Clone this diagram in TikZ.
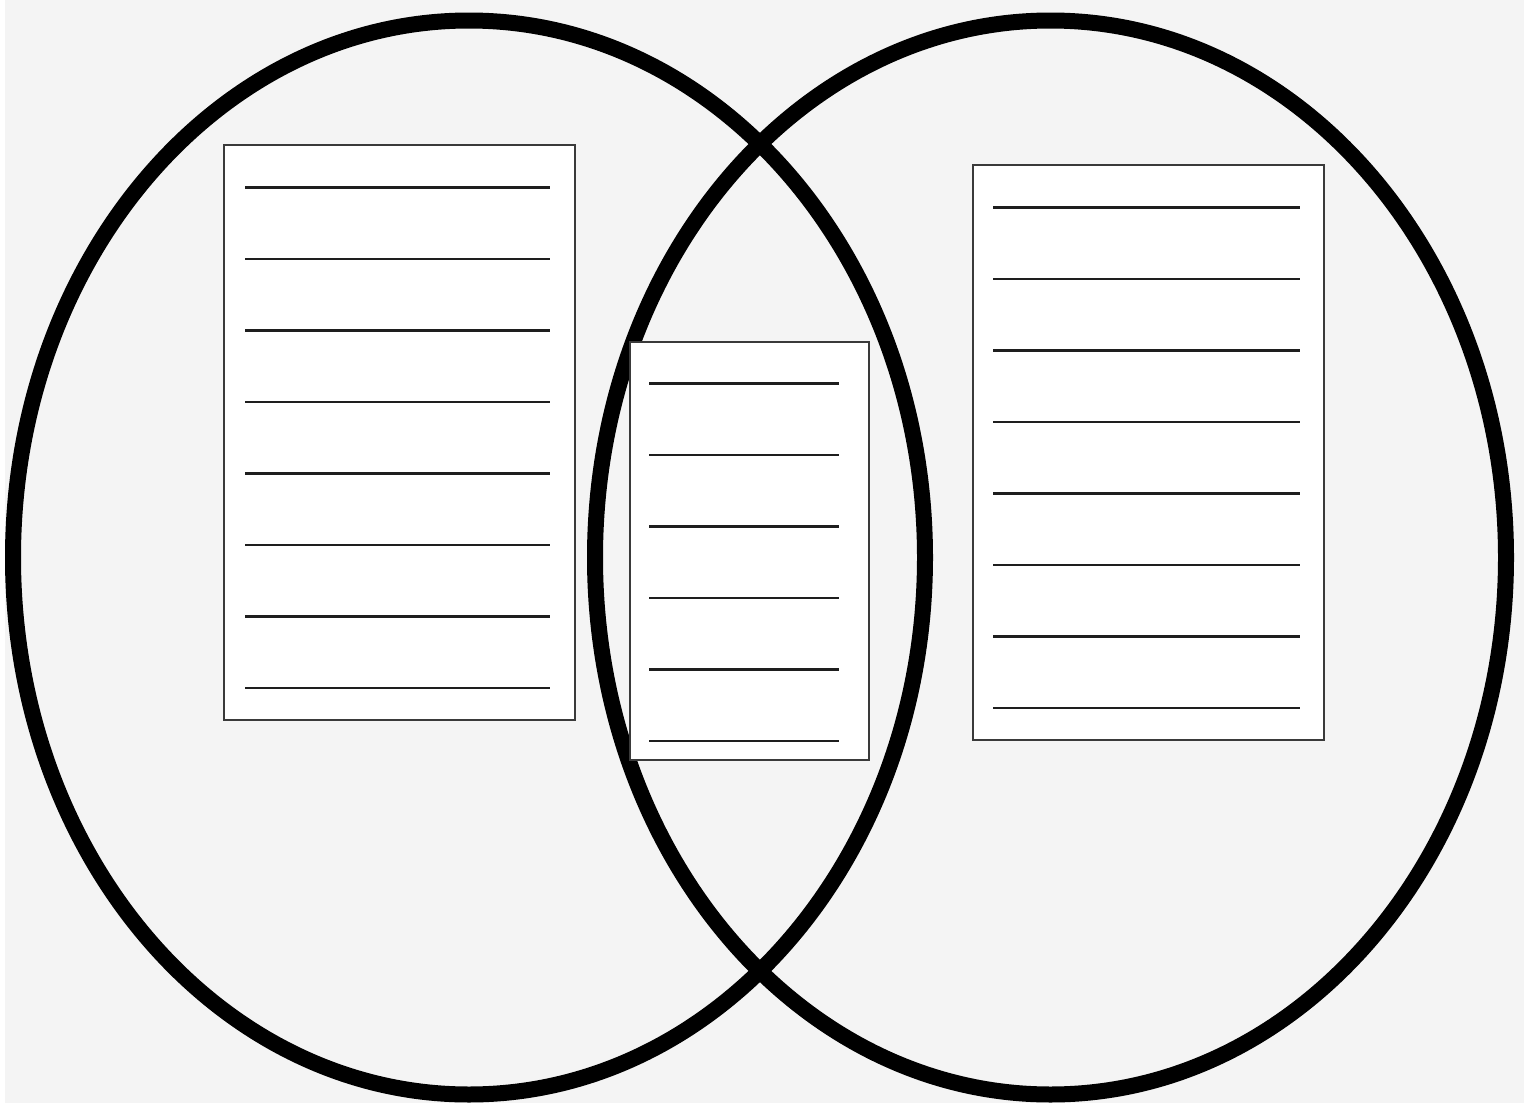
\documentclass[tikz,border=0pt]{standalone}
\definecolor{bggray}{HTML}{F4F4F4}
\definecolor{boxedge}{HTML}{3A3A3A}
\definecolor{rulecol}{HTML}{1E1E1E}
\tikzset{
  ring/.style={draw=black, line width=16pt},
  listbox/.style={draw=boxedge, fill=white, line width=1.5pt, rectangle, inner sep=0pt},
  writeline/.style={draw=rulecol, line width=2.4pt},
}
\begin{document}
\begin{tikzpicture}[x=1pt,y=-1pt]
\useasboundingbox (0,0) rectangle (1524,1103);
\fill[white] (0,0) rectangle (1524,1103);
\fill[bggray] (5,0) rectangle (1524,1103);
% circles
\draw[ring] (469,557.5) ellipse [x radius=456pt, y radius=537pt];
\draw[ring] (1050.5,557.5) ellipse [x radius=455.5pt, y radius=537pt];
% boxes
\node[listbox, minimum width=351pt, minimum height=575pt] (L) at (399.5,432.5) {};
\node[listbox, minimum width=239pt, minimum height=418pt] (M) at (749.5,551) {};
\node[listbox, minimum width=351pt, minimum height=575pt] (R) at (1148.5,452.5) {};
% writing lines
\foreach \k in {0,...,7} {
  \draw[writeline] (245,187.5+71.5*\k) -- (550,187.5+71.5*\k);
  \draw[writeline] (993,207.5+71.5*\k) -- (1300,207.5+71.5*\k);
}
\foreach \k in {0,...,5} {
  \draw[writeline] (649,383.5+71.5*\k) -- (839,383.5+71.5*\k);
}
\end{tikzpicture}
\end{document}
